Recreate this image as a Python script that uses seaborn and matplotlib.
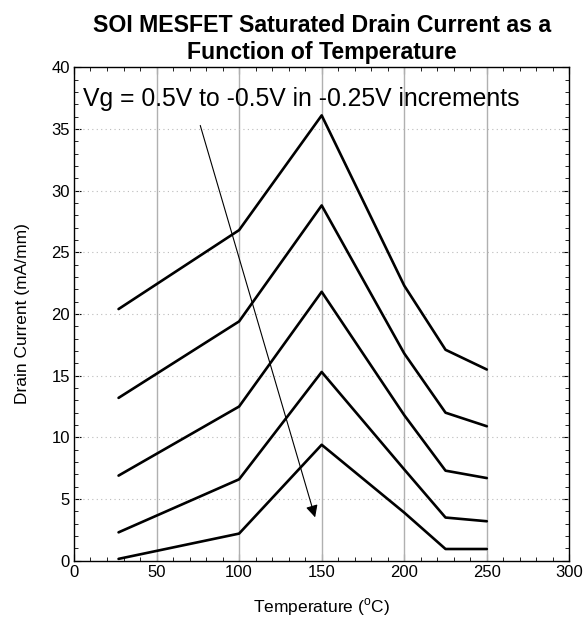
import matplotlib
matplotlib.use("Agg")
import matplotlib.pyplot as plt
import seaborn as sns
import pandas as pd
from matplotlib.ticker import MultipleLocator

temps = [27, 100, 150, 200, 225, 250]
vg_labels = ["0.5V", "0.25V", "0V", "-0.25V", "-0.5V"]
id_05 = [20.4, 26.8, 36.1, 22.3, 17.1, 15.5]
id_025 = [13.2, 19.4, 28.8, 16.8, 12.0, 10.9]
id_0 = [6.9, 12.5, 21.8, 11.8, 7.3, 6.7]
id_m025 = [2.3, 6.6, 15.3, 7.4, 3.5, 3.2]
id_m05 = [0.15, 2.2, 9.4, 3.9, 0.95, 0.95]
series = [id_05, id_025, id_0, id_m025, id_m05]

rows = []
for lab, vals in zip(vg_labels, series):
    for t, v in zip(temps, vals):
        rows.append({"Temperature": t, "Current": v, "Vg": lab})
df = pd.DataFrame(rows)

sns.set_theme(style="white")
plt.rcParams["font.family"] = ["Liberation Sans", "DejaVu Sans"]
plt.rcParams["mathtext.fontset"] = "custom"
plt.rcParams["mathtext.rm"] = "Liberation Sans"

fig = plt.figure(figsize=(5.87, 6.24), dpi=100)
ax = fig.add_axes([0.126, 0.1014, 0.844, 0.7908])

sns.lineplot(data=df, x="Temperature", y="Current", hue="Vg",
             palette=["black"] * 5, linewidth=1.9, legend=False,
             sort=False, ax=ax, zorder=3)

ax.set_xlim(0, 300)
ax.set_ylim(0, 40)
ax.xaxis.set_major_locator(MultipleLocator(50))
ax.xaxis.set_minor_locator(MultipleLocator(10))
ax.yaxis.set_major_locator(MultipleLocator(5))
ax.yaxis.set_minor_locator(MultipleLocator(1))
ax.tick_params(which="both", direction="in", top=True, right=True,
               bottom=True, left=True, color="black", labelsize=12, pad=3,
               labelcolor="black")
ax.tick_params(which="major", length=5, width=0.8)
ax.tick_params(which="minor", length=3, width=0.6)

for x in [50, 100, 150, 200, 250]:
    ax.axvline(x, color="#b0b0b0", linewidth=1.0, zorder=1)
for y in range(5, 40, 5):
    ax.axhline(y, color="#bbbbbb", linewidth=0.8, linestyle=(0, (1, 3)), zorder=1)

for s in ax.spines.values():
    s.set_color("black")
    s.set_linewidth(1.0)

ax.set_xlabel(r"Temperature ($^{\mathrm{o}}$C)", fontsize=12.5, labelpad=12,
              color="black")
ax.set_ylabel("Drain Current (mA/mm)", fontsize=12.5, labelpad=15, color="black")
ax.set_title("SOI MESFET Saturated Drain Current as a\nFunction of Temperature",
             fontsize=16.7, fontweight="bold", pad=6, linespacing=1.2,
             color="black")

ax.text(5.5, 37.4, "Vg = 0.5V to -0.5V in -0.25V increments", fontsize=17.8,
        va="center", ha="left", color="black")
ax.annotate("", xy=(146.5, 3.3), xytext=(76, 35.5),
            arrowprops=dict(arrowstyle="-|>", color="black", lw=0.8,
                            mutation_scale=18), zorder=4)

fig.savefig("out.png", dpi=100)
